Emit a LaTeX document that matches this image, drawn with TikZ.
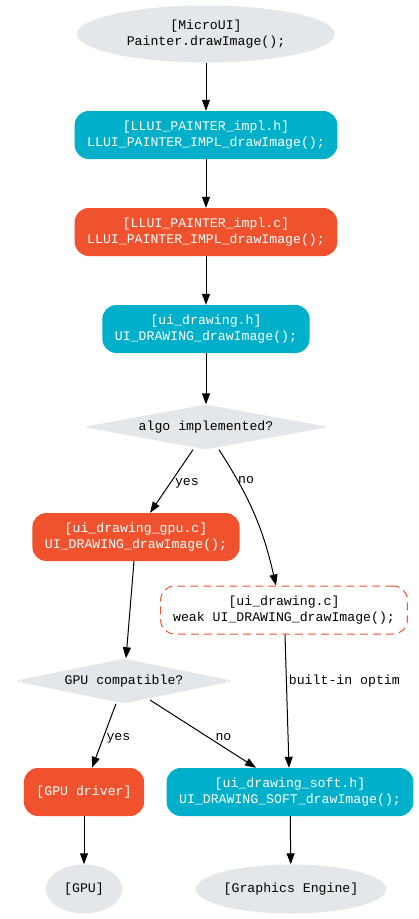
\documentclass[tikz,border=0pt]{standalone}
\usepackage{fontspec}
\setmonofont{Liberation Mono}
\usepackage{tikz}
\usetikzlibrary{arrows.meta, shapes.geometric}
\usepackage{xcolor}
\definecolor{uiCyan}{RGB}{0,176,202}
\definecolor{uiRed}{RGB}{240,82,45}
\definecolor{uiGrey}{RGB}{228,231,234}

\begin{document}
\begin{tikzpicture}[
    x=1pt, y=-1pt,
    every node/.style={font=\fontsize{13.2}{16}\selectfont\ttfamily, align=center},
    cyanBox/.style={rectangle, rounded corners=14pt, fill=uiCyan, text=white, inner xsep=12.5pt, inner ysep=0pt, minimum height=48pt},
    redBox/.style={rectangle, rounded corners=14pt, fill=uiRed, text=white, inner xsep=12.5pt, inner ysep=0pt, minimum height=48pt},
    weakBox/.style={rectangle, rounded corners=14pt, draw=uiRed, line width=1pt, dash pattern=on 8pt off 5pt, fill=white, inner xsep=12.5pt, inner ysep=0pt, minimum height=48pt},
    greyEllipse/.style={ellipse, fill=uiGrey, inner sep=0pt},
    greyDiamond/.style={diamond, aspect=5.5, fill=uiGrey, inner sep=0pt, rounded corners=5pt},
    flowArrow/.style={-{Triangle[length=11pt, width=8pt]}, line width=1pt, black},
    edgeLabel/.style={inner sep=2pt}
]
    \useasboundingbox (0,0) rectangle (419,919);

    % Main chain
    \node[greyEllipse, minimum width=258pt, minimum height=57pt] (microui) at (206,34) {[MicroUI]\\Painter.drawImage();};
    \node[cyanBox] (painterh) at (206,135) {[LLUI\_PAINTER\_impl.h]\\LLUI\_PAINTER\_IMPL\_drawImage();};
    \node[redBox]  (painterc) at (206,232) {[LLUI\_PAINTER\_impl.c]\\LLUI\_PAINTER\_IMPL\_drawImage();};
    \node[cyanBox] (drawingh) at (206,329) {[ui\_drawing.h]\\UI\_DRAWING\_drawImage();};

    % Decisions
    \node[greyDiamond, minimum width=246pt, minimum height=45pt] (algo) at (206,427) {algo implemented?};
    \node[redBox]  (gpuc) at (136,537) {[ui\_drawing\_gpu.c]\\UI\_DRAWING\_drawImage();};
    \node[weakBox] (weakc) at (284,610) {[ui\_drawing.c]\\weak UI\_DRAWING\_drawImage();};
    \node[greyDiamond, minimum width=220pt, minimum height=45pt] (gpucompat) at (124,681) {GPU compatible?};

    % Back ends
    \node[redBox]  (driver) at (84,792) {[GPU driver]};
    \node[cyanBox] (softh) at (290,792) {[ui\_drawing\_soft.h]\\UI\_DRAWING\_SOFT\_drawImage();};
    \node[greyEllipse, minimum width=76pt, minimum height=49pt] (gpu) at (84,889) {[GPU]};
    \node[greyEllipse, minimum width=188pt, minimum height=49pt] (engine) at (291,889) {[Graphics Engine]};

    % Connectors
    \draw[flowArrow] (microui) -- (painterh);
    \draw[flowArrow] (painterh) -- (painterc);
    \draw[flowArrow] (painterc) -- (drawingh);
    \draw[flowArrow] (drawingh) -- (algo);
    \draw[flowArrow] ([xshift=-13pt]algo.south) -- node[edgeLabel, right, xshift=1pt, yshift=-2pt] {yes} ([xshift=14pt]gpuc.north);
    \draw[flowArrow] ([xshift=13pt]algo.south) to[bend left=10] node[edgeLabel, pos=0.2, right, yshift=-3pt] {no} ([xshift=-8pt]weakc.north);
    \draw[flowArrow] ([xshift=-2pt]gpuc.south) -- ([xshift=2pt]gpucompat.north);
    \draw[flowArrow] ([xshift=1pt]weakc.south) -- node[edgeLabel, pos=0.35, right] {built-in optim} ([xshift=-1pt]softh.north);
    \draw[flowArrow] ([xshift=-8pt]gpucompat.south) -- node[edgeLabel, right, yshift=-3pt] {yes} ([xshift=8pt]driver.north);
    \draw[flowArrow] ([xshift=26pt, yshift=-19pt]gpucompat.center) -- node[edgeLabel, right, xshift=10pt, yshift=-3pt] {no} ([xshift=-34pt]softh.north);
    \draw[flowArrow] (driver) -- (gpu);
    \draw[flowArrow] (softh) -- (engine);
\end{tikzpicture}
\end{document}
